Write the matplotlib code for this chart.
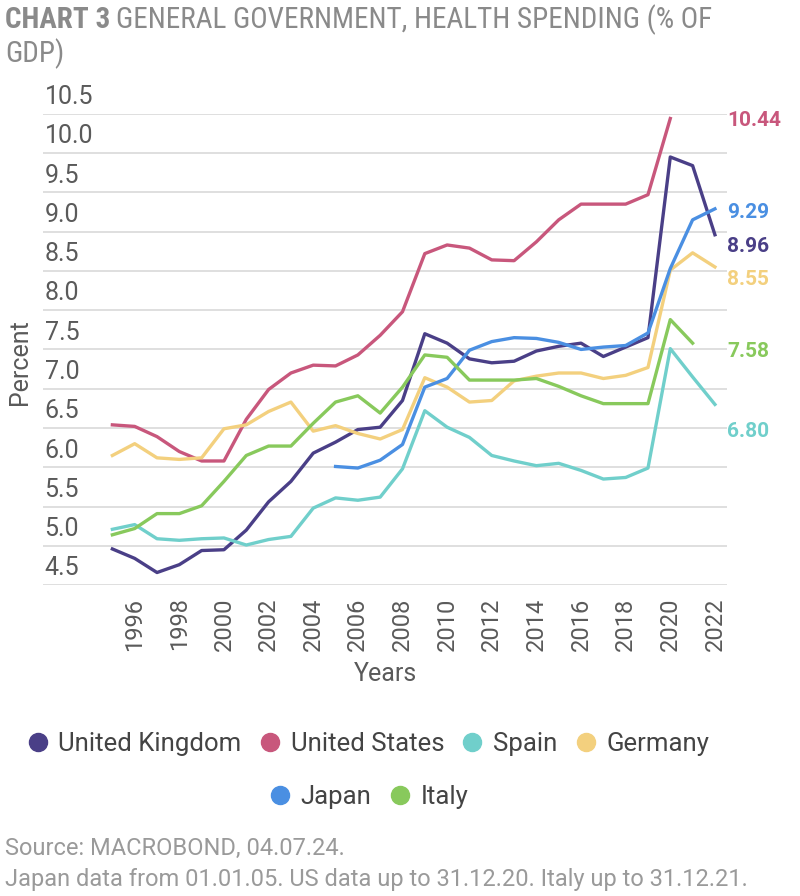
import matplotlib
matplotlib.use("Agg")
import matplotlib.pyplot as plt
from matplotlib import font_manager
from matplotlib.lines import Line2D
import numpy as np

# fonts - use a narrow face for the title if one is installed
names = {f.name for f in font_manager.fontManager.ttflist}
narrow, title_size = "Roboto", 19.3
for n in ["Roboto Condensed", "Liberation Sans Narrow"]:
    if n in names:
        narrow, title_size = n, 21
        break
plt.rcParams['font.family'] = ['Roboto', 'DejaVu Sans']

years = list(range(1995, 2023))

uk = [4.96, 4.84, 4.66, 4.76, 4.94, 4.95, 5.20, 5.56, 5.82, 6.18, 6.32, 6.48, 6.51, 6.85,
      7.70, 7.58, 7.38, 7.33, 7.35, 7.48, 7.54, 7.58, 7.41, 7.53, 7.65, 9.95, 9.84, 8.96]
us = [6.54, 6.52, 6.39, 6.20, 6.08, 6.08, 6.61, 6.99, 7.20, 7.30, 7.29, 7.43, 7.68, 7.98,
      8.72, 8.83, 8.79, 8.64, 8.63, 8.87, 9.15, 9.35, 9.35, 9.35, 9.47, 10.44]
spain = [5.21, 5.27, 5.09, 5.07, 5.09, 5.10, 5.01, 5.08, 5.12, 5.48, 5.61, 5.58, 5.62, 5.98,
         6.72, 6.51, 6.38, 6.15, 6.08, 6.02, 6.05, 5.96, 5.85, 5.87, 5.99, 7.51, 7.15, 6.80]
germany = [6.15, 6.30, 6.12, 6.10, 6.12, 6.49, 6.54, 6.71, 6.83, 6.46, 6.53, 6.43, 6.36, 6.48,
           7.14, 7.02, 6.83, 6.85, 7.10, 7.16, 7.20, 7.20, 7.13, 7.17, 7.27, 8.51, 8.73, 8.55]
japan_years = list(range(2005, 2023))
japan = [6.01, 5.99, 6.09, 6.29, 7.02, 7.13, 7.49, 7.60, 7.65, 7.64, 7.59, 7.50, 7.53, 7.55,
         7.71, 8.53, 9.15, 9.29]
italy = [5.14, 5.22, 5.41, 5.41, 5.51, 5.82, 6.15, 6.27, 6.27, 6.56, 6.83, 6.91, 6.69, 7.02,
         7.43, 7.40, 7.11, 7.11, 7.11, 7.13, 7.03, 6.91, 6.81, 6.81, 6.81, 7.88, 7.58]

c_uk = "#4a3f87"
c_us = "#c8577c"
c_es = "#70cfcb"
c_de = "#f3d07e"
c_jp = "#4a8fe2"
c_it = "#88c95c"

fig = plt.figure(figsize=(8, 8.96), dpi=100)
ax = fig.add_axes([0.054, 0.347, 0.855, 0.526])

lw = 2.4
ax.plot(years, uk, color=c_uk, lw=lw)
ax.plot(years[:len(us)], us, color=c_us, lw=lw)
ax.plot(years, spain, color=c_es, lw=lw)
ax.plot(years, germany, color=c_de, lw=lw)
ax.plot(japan_years, japan, color=c_jp, lw=lw)
ax.plot(years[:len(italy)], italy, color=c_it, lw=lw)

ax.set_xlim(1991.9, 2022.55)
ax.set_ylim(4.5, 10.5)
yt = np.arange(4.5, 10.51, 0.5)
ax.set_yticks(yt)
ax.set_yticklabels([])
ax.grid(axis='y', color='#dcdcdc', lw=1.3)
ax.set_axisbelow(True)
for s in ax.spines.values():
    s.set_visible(False)
ax.tick_params(length=0)
for v in yt:
    ax.text(0.002, v + 0.06, f"{v:.1f}", transform=ax.get_yaxis_transform(),
            ha='left', va='bottom', fontsize=18, color='#5a5a5a')

ax.set_xticks(range(1996, 2023, 2))
ax.set_xticklabels([str(y) for y in range(1996, 2023, 2)], rotation=90,
                   fontsize=17, color='#5a5a5a')
ax.tick_params(axis='x', pad=9)
ax.set_xlabel("Years", fontsize=18, color='#5a5a5a', labelpad=8)
fig.text(0.025, 0.596, "Percent", rotation=90, ha='center', va='center',
         fontsize=18, color='#5a5a5a')

# end-of-line value labels
end_vals = ["10.44", "9.29", "8.96", "8.55", "7.58", "6.80"]
end_cols = [c_us, c_jp, c_uk, c_de, c_it, c_es]
end_pos = [10.41, 9.24, 8.81, 8.39, 7.47, 6.45]
for t, c, p in zip(end_vals, end_cols, end_pos):
    ax.text(1.0, p, t, transform=ax.get_yaxis_transform(), ha='left', va='center',
            fontsize=15, fontweight='bold', color=c, clip_on=False)

# legend in two centered rows
def h(c):
    return Line2D([], [], ls='none', marker='o', markersize=13, color=c)

leg_kw = dict(frameon=False, fontsize=18.5, handletextpad=0.25, columnspacing=0.55,
              handlelength=1.1, labelcolor='#444444', loc='center')
fig.legend([h(c_uk), h(c_us), h(c_es), h(c_de)],
           ["United Kingdom", "United States", "Spain", "Germany"], ncol=4,
           bbox_to_anchor=(0.458, 1 - 744 / 896), **leg_kw)
fig.legend([h(c_jp), h(c_it)], ["Japan", "Italy"], ncol=2,
           bbox_to_anchor=(0.459, 1 - 797 / 896), **leg_kw)

# title: bold "CHART 3" then the rest
tcol = '#8a8a8a'
t1 = fig.text(0.006, 1 - 20 / 896, "CHART 3", fontsize=title_size, fontweight='bold',
              color=tcol, family=narrow, va='center')
r = fig.canvas.get_renderer()
bb = t1.get_window_extent(renderer=r)
fig.text(bb.x1 / 800 + 0.007, 1 - 20 / 896, "GENERAL GOVERNMENT, HEALTH SPENDING (% OF",
         fontsize=title_size, color=tcol, family=narrow, va='center')
fig.text(0.006, 1 - 54 / 896, "GDP)", fontsize=title_size, color=tcol, family=narrow,
         va='center')

fig.text(0.006, 1 - 848 / 896, "Source: MACROBOND, 04.07.24.", fontsize=17,
         color='#9a9a9a', va='center')
fig.text(0.006, 1 - 879 / 896,
         "Japan data from 01.01.05. US data up to 31.12.20. Italy up to 31.12.21.",
         fontsize=17, color='#9a9a9a', va='center')

fig.savefig("out.png", dpi=100)
